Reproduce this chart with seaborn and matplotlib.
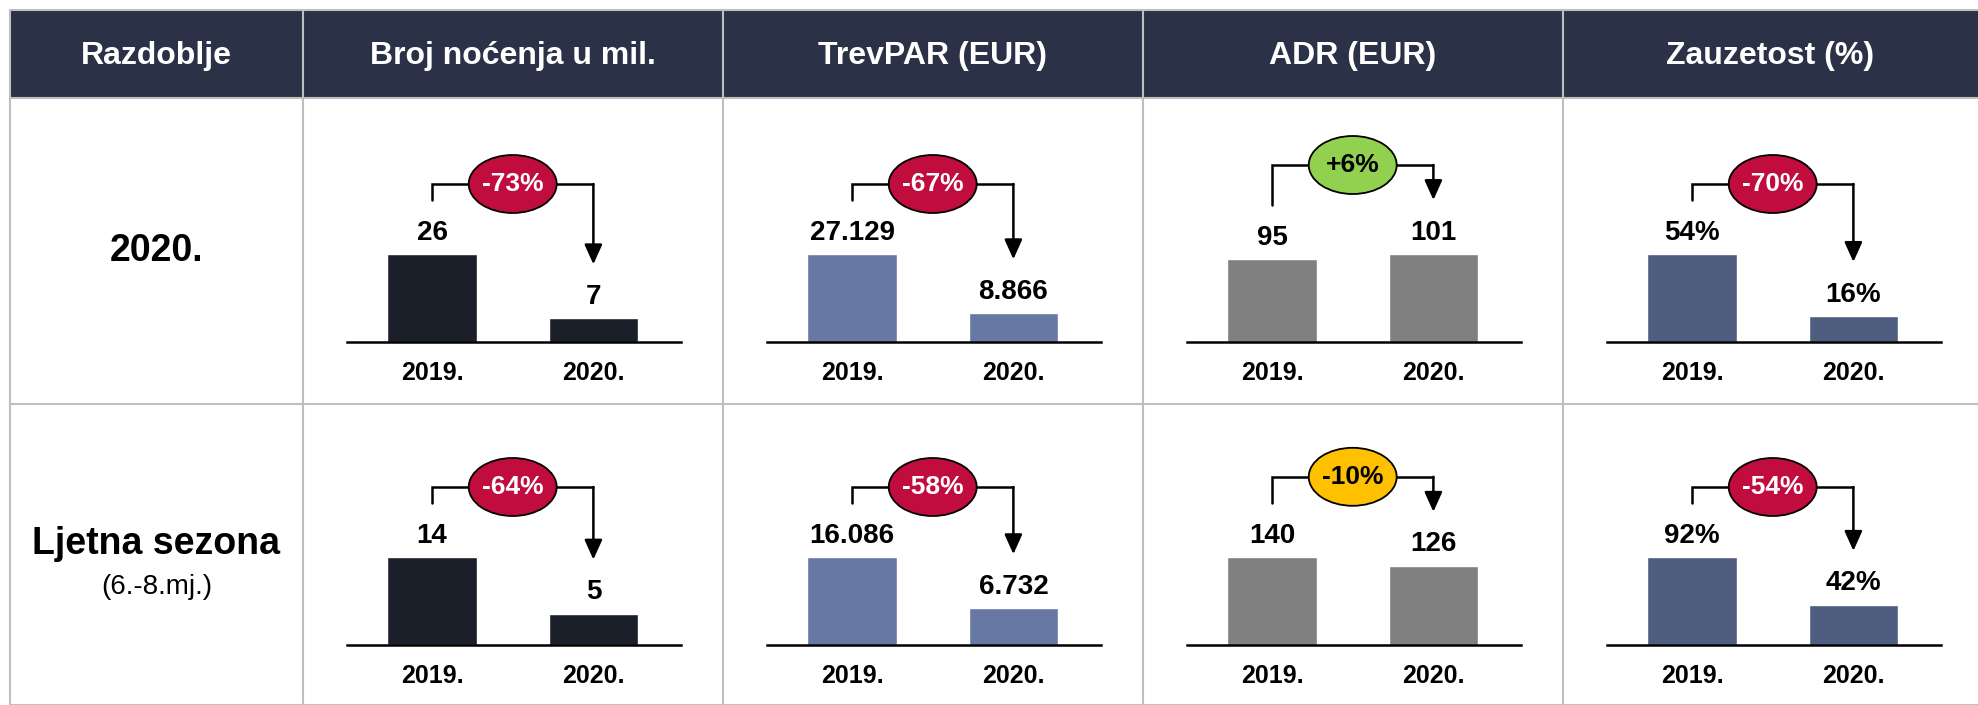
import numpy as np
import pandas as pd
import matplotlib
matplotlib.use('Agg')
import matplotlib.pyplot as plt
from matplotlib.patches import Rectangle, Ellipse
import seaborn as sns

sns.set_style('white')
plt.rcParams['font.family'] = ['Liberation Sans', 'DejaVu Sans']
plt.rcParams['text.color'] = 'black'
plt.rcParams['xtick.color'] = 'black'

# data
header = ['Razdoblje', 'Broj noćenja u mil.', 'TrevPAR (EUR)', 'ADR (EUR)', 'Zauzetost (%)']
periods = ['2020.', 'Ljetna sezona']
period_note = ['', '(6.-8.mj.)']
years = ['2019.', '2020.']

nocenja = [[26, 7], [14, 5]]
trevpar = [[27129, 8866], [16086, 6732]]
adr = [[95, 101], [140, 126]]
zauzetost = [[54, 16], [92, 42]]

change_nocenja = [-73, -64]
change_trevpar = [-67, -58]
change_adr = [6, -10]
change_zauzetost = [-70, -54]

metric_values = [nocenja, trevpar, adr, zauzetost]
metric_changes = [change_nocenja, change_trevpar, change_adr, change_zauzetost]
metric_fmt = ['int', 'thousands', 'int', 'pct']
bar_colors = ['#1b1f2a', '#6779a3', '#808080', '#4f5d80']

W, H = 1978, 705
col_edges = [10, 303, 723, 1143, 1563, 1978]
row_edges = [10, 98, 404, 705]
baselines = [342, 645]
HEADER_BG = '#2b3247'
GRID = '#bfbfbf'


def fmt_value(v, kind):
    if kind == 'thousands':
        return f'{v:,}'.replace(',', '.')
    if kind == 'pct':
        return f'{v}%'
    return str(v)


def badge_color(p):
    if p > 0:
        return '#92d050', 'black'
    if p > -15:
        return '#ffc000', 'black'
    return '#c00d3d', 'white'


def px_rect(x0, y0, x1, y1):
    return [x0 / W, 1 - y1 / H, (x1 - x0) / W, (y1 - y0) / H]


fig = plt.figure(figsize=(W / 100, H / 100), dpi=100)

# table background
bg = fig.add_axes([0, 0, 1, 1])
bg.set_xlim(0, W)
bg.set_ylim(H, 0)
bg.axis('off')
bg.add_patch(Rectangle((col_edges[0], row_edges[0]), W - col_edges[0], row_edges[1] - row_edges[0],
                       facecolor=HEADER_BG, edgecolor='none'))
for x in col_edges[:-1]:
    bg.plot([x, x], [row_edges[0], H], color=GRID, lw=1.5)
for y in row_edges:
    bg.plot([col_edges[0], W], [y, y], color=GRID, lw=1.5)
for j, name in enumerate(header):
    bg.text((col_edges[j] + col_edges[j + 1]) / 2, (row_edges[0] + row_edges[1]) / 2 + 2, name,
            color='white', fontsize=23, fontweight='bold', ha='center', va='center')

# row labels
for i, name in enumerate(periods):
    cy = (row_edges[i + 1] + row_edges[i + 2]) / 2
    xc = (col_edges[0] + col_edges[1]) / 2
    if period_note[i]:
        bg.text(xc, cy - 10, name, fontsize=27, fontweight='bold', ha='center', va='center')
        bg.text(xc, cy + 33, period_note[i], fontsize=20, ha='center', va='center')
    else:
        bg.text(xc, cy, name, fontsize=27, fontweight='bold', ha='center', va='center')

AX_W, AX_H, BAR_PX = 334, 220, 88
for j in range(4):
    for i in range(2):
        vals = metric_values[j][i]
        left = col_edges[j + 1] + 44
        base = baselines[i]
        ax = fig.add_axes(px_rect(left, base - AX_H, left + AX_W, base))
        ax.patch.set_alpha(0)
        df = pd.DataFrame({'year': years, 'value': vals})
        sns.barplot(data=df, x='year', y='value', ax=ax, color=bar_colors[j],
                    saturation=1, width=0.555, errorbar=None)
        vmax = max(vals)
        u = vmax / BAR_PX
        ax.set_ylim(0, vmax * AX_H / BAR_PX)
        ax.set_xlim(-0.527, 1.543)
        ax.bar_label(ax.containers[0], labels=[fmt_value(v, metric_fmt[j]) for v in vals],
                     padding=6, fontsize=20, fontweight='bold', color='black')
        for s in ['top', 'left', 'right']:
            ax.spines[s].set_visible(False)
        ax.spines['bottom'].set_linewidth(1.8)
        ax.spines['bottom'].set_color('black')
        ax.set_xlabel('')
        ax.set_ylabel('')
        ax.set_yticks([])
        ax.tick_params(axis='x', length=0, pad=14, labelsize=18, labelcolor='black')
        for t in ax.get_xticklabels():
            t.set_fontweight('bold')

        # change bracket
        leg_l = vals[0] + 54 * u
        leg_r = vals[1] + 54 * u
        by = max(leg_l + 16 * u, leg_r + 35 * u)
        ax.plot([0, 0, 1], [leg_l, by, by], color='black', lw=1.8,
                solid_joinstyle='miter', clip_on=False)
        ax.annotate('', xy=(1, leg_r), xytext=(1, by),
                    arrowprops=dict(arrowstyle='-|>,head_length=0.6,head_width=0.27',
                                    mutation_scale=20, lw=1.8, color='black',
                                    shrinkA=0, shrinkB=0))
        p = metric_changes[j][i]
        fc, tc = badge_color(p)
        ax.add_patch(Ellipse((0.5, by), 0.545, 58 * u, facecolor=fc, edgecolor='black',
                             lw=1.3, zorder=5, clip_on=False))
        ax.text(0.5, by, f'{p:+d}%', color=tc, fontsize=19, fontweight='bold',
                ha='center', va='center', zorder=6)

fig.savefig('out.png', dpi=100)
